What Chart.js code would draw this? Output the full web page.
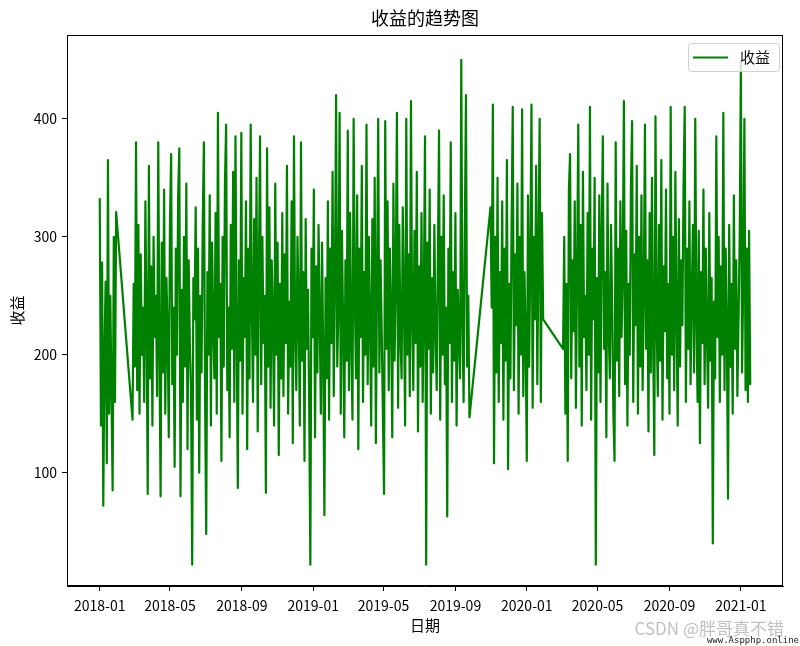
<!DOCTYPE html>
<html lang="zh">
<head>
<meta charset="utf-8">
<title>收益的趋势图</title>
<script src="https://cdn.jsdelivr.net/npm/chart.js@4.4.1/dist/chart.umd.min.js"></script>
<style>
  html, body { margin: 0; padding: 0; background: #fff; }
  canvas { display: block; }
</style>
</head>
<body>
<canvas id="trendChart" width="800" height="646"></canvas>
<script>
// 收益数据: 每两天一个点, 在几个停顿处分成四段
const segmentStarts = ['2018-01-01', '2018-02-26', '2019-10-31', '2020-03-03'];
const stepDays = 2;

const revenue2018a = [332, 140, 278, 72, 200, 262, 108, 365, 150, 250, 170, 85, 300, 160, 321];

const revenue2018b = [
  145, 260, 190, 380, 170, 310, 150, 285, 200, 240,
  160, 330, 230, 82, 360, 180, 275, 140, 300, 215,
  250, 165, 380, 205, 80, 295, 185, 340, 150, 265,
  220, 130, 310, 370, 175, 240, 105, 290, 200, 335,
  375, 80, 255, 160, 300, 190, 345, 120, 280, 210,
  170, 22, 265, 230, 325, 145, 290, 100, 250, 185,
  310, 380, 165, 48, 270, 200, 335, 140, 295, 225,
  180, 320, 150, 405, 215, 260, 110, 300, 190, 345,
  395, 170, 240, 130, 310, 205, 355, 160, 385, 225,
  87, 280, 195, 388, 150, 265, 215, 330, 120, 290,
  180, 395, 240, 160, 315, 200, 350, 135, 270, 385,
  175, 300, 210, 250, 83, 375, 190, 325, 155, 280,
  230, 140, 345, 200, 295, 115, 260, 180, 320, 165,
  285, 210, 360, 150, 245, 190, 330, 125, 385, 220,
  170, 300, 240, 140, 380, 195, 270, 110, 315, 205,
  255, 160, 22, 290, 215, 340, 130, 275, 185, 310,
  230, 150, 295, 200, 64, 265, 180, 330, 145, 290,
  210, 355, 165, 260, 420, 190, 240, 405, 150, 305,
  225, 130, 280, 195, 390, 170, 320, 210, 145, 400,
  250, 180, 335, 120, 290, 215, 360, 160, 270, 200,
  395, 175, 300, 230, 140, 315, 190, 350, 125, 260,
  400, 185, 280, 220, 150, 82, 398, 205, 330, 170,
  290, 235, 130, 345, 195, 265, 405, 155, 310, 215,
  180, 325, 245, 140, 400, 200, 285, 165, 415, 230,
  170, 305, 210, 355, 135, 275, 190, 320, 160, 250,
  385, 22, 295, 205, 340, 150, 265, 185, 310, 220,
  170, 280, 390, 145, 300, 200, 335, 175, 240, 63,
  290, 210, 380, 160, 270, 195, 320, 140, 255, 215,
  180, 450, 230, 160, 300, 420, 190, 250, 147
];

const revenue2019 = [
  325, 240, 412, 108, 300, 185, 350, 160, 270, 210,
  330, 145, 290, 195, 365, 103, 260, 180, 310, 410,
  170, 285, 225, 345, 150, 300, 200, 408, 165, 270,
  215, 110, 335, 190, 280, 412, 155, 300, 230, 360,
  175, 290, 400, 160, 320, 230
];

const revenue2020 = [
  205, 300, 150, 260, 110, 340, 370, 180, 280, 220,
  330, 155, 270, 395, 190, 310, 140, 355, 215, 250,
  170, 320, 200, 410, 145, 290, 230, 350, 22, 265,
  185, 335, 160, 300, 385, 205, 270, 130, 345, 220,
  180, 310, 240, 150, 110, 380, 195, 290, 165, 330,
  215, 270, 415, 175, 305, 140, 260, 200, 340, 398,
  160, 285, 225, 360, 150, 300, 190, 335, 170, 250,
  395, 205, 280, 135, 320, 185, 350, 210, 115, 402,
  230, 165, 310, 195, 365, 145, 275, 220, 340, 180,
  260, 150, 410, 200, 300, 170, 355, 235, 140, 315,
  190, 280, 225, 345, 410, 160, 290, 205, 330, 175,
  250, 310, 185, 400, 230, 160, 305, 125, 270, 210,
  340, 175, 290, 220, 155, 320, 195, 265, 40, 245,
  180, 385, 215, 300, 160, 275, 200, 405, 170, 290,
  225, 78, 310, 190, 260, 150, 335, 205, 280, 165,
  230, 300, 448, 185, 260, 400, 170, 290, 160, 305,
  175
];

const xTickDates = ['2018-01-01', '2018-05-01', '2018-09-01', '2019-01-01', '2019-05-01',
  '2019-09-01', '2020-01-01', '2020-05-01', '2020-09-01', '2021-01-01'];
const xTickLabels = ['2018-01', '2018-05', '2018-09', '2019-01', '2019-05',
  '2019-09', '2020-01', '2020-05', '2020-09', '2021-01'];
const yTicks = [100, 200, 300, 400];

const FONT = '"Noto Sans CJK SC", "Noto Sans", sans-serif';
const LINE_GREEN = '#008000';

// 距 2018-01-01 的天数, 作为线性 x 轴的取值
const dayOf = (s) => (Date.parse(s + 'T00:00:00Z') - Date.parse('2018-01-01T00:00:00Z')) / 86400000;

const segments = [revenue2018a, revenue2018b, revenue2019, revenue2020];
const points = [];
segments.forEach((vals, s) => {
  const start = dayOf(segmentStarts[s]);
  vals.forEach((v, i) => points.push({ x: start + i * stepDays, y: v }));
});

// 坐标框 (上/右两条边 Chart.js 不画)
const frame = {
  id: 'frame',
  afterDatasetsDraw(chart) {
    const { ctx, chartArea: a } = chart;
    ctx.save();
    ctx.strokeStyle = '#000';
    ctx.lineWidth = 1;
    ctx.strokeRect(a.left + 0.5, a.top + 0.5, a.right - a.left - 1, a.bottom - a.top - 1);
    ctx.restore();
  }
};

// 右上角图例, 仿 matplotlib 的样式
const legendBox = {
  id: 'legendBox',
  afterDatasetsDraw(chart) {
    const { ctx, chartArea: a } = chart;
    const ds = chart.data.datasets[0];
    const w = 91, h = 28;
    const x = a.right - 4 - w, y = a.top + 8;
    ctx.save();
    ctx.beginPath();
    ctx.roundRect(x + 0.5, y + 0.5, w, h, 3);
    ctx.fillStyle = 'rgba(255,255,255,0.8)';
    ctx.fill();
    ctx.strokeStyle = '#d0d0d0';
    ctx.lineWidth = 1;
    ctx.stroke();
    ctx.beginPath();
    ctx.moveTo(x + 5, y + 14.5);
    ctx.lineTo(x + 40, y + 14.5);
    ctx.strokeStyle = ds.borderColor;
    ctx.lineWidth = 2;
    ctx.stroke();
    ctx.fillStyle = '#111';
    ctx.font = '15px ' + FONT;
    ctx.textBaseline = 'middle';
    ctx.fillText(ds.label, x + 52, y + 14.5);
    ctx.restore();
  }
};

// 图片右下角的水印文字
const watermark = {
  id: 'watermark',
  afterDraw(chart) {
    const { ctx } = chart;
    ctx.save();
    ctx.textAlign = 'right';
    ctx.textBaseline = 'middle';
    ctx.fillStyle = 'rgba(140,140,140,0.55)';
    ctx.font = '17px ' + FONT;
    ctx.fillText('CSDN @胖哥真不错', 784, 629);
    ctx.fillStyle = '#222';
    ctx.font = '9px "DejaVu Sans Mono", monospace';
    ctx.fillText('www.Aspphp.online', 799, 641);
    ctx.restore();
  }
};

new Chart(document.getElementById('trendChart'), {
  type: 'line',
  data: {
    datasets: [{
      label: '收益',
      data: points,
      borderColor: LINE_GREEN,
      borderWidth: 2.2,
      borderJoinStyle: 'round',
      borderCapStyle: 'round',
      pointRadius: 0,
      fill: false,
      tension: 0
    }]
  },
  options: {
    responsive: false,
    animation: false,
    devicePixelRatio: 1,
    events: [],
    layout: { padding: { left: 0, right: 17, top: 0, bottom: 0 } },
    scales: {
      x: {
        type: 'linear',
        min: -56,
        max: 1168,
        afterBuildTicks: (scale) => {
          scale.ticks = xTickDates.map(d => ({ value: dayOf(d) }));
        },
        afterFit: (scale) => { scale.height = 60; },
        ticks: {
          autoSkip: false,
          maxRotation: 0,
          padding: 6,
          color: '#000',
          font: { family: FONT, size: 14 },
          callback: (value, index) => xTickLabels[index]
        },
        grid: { drawOnChartArea: false, drawTicks: true, tickLength: 5, tickColor: '#000' },
        border: { display: true, color: '#000' },
        title: {
          display: true,
          text: '日期',
          color: '#000',
          font: { family: FONT, size: 15 },
          padding: { top: 0, bottom: 12 }
        }
      },
      y: {
        min: 4,
        max: 471,
        afterBuildTicks: (scale) => {
          scale.ticks = yTicks.map(v => ({ value: v }));
        },
        afterFit: (scale) => { scale.width = 67; },
        ticks: {
          padding: 5,
          color: '#000',
          font: { family: FONT, size: 14 }
        },
        grid: { drawOnChartArea: false, drawTicks: true, tickLength: 5, tickColor: '#000' },
        border: { display: true, color: '#000' },
        title: {
          display: true,
          text: '收益',
          color: '#000',
          font: { family: FONT, size: 15 },
          padding: { top: 8, bottom: 0 }
        }
      }
    },
    plugins: {
      legend: { display: false },
      tooltip: { enabled: false },
      title: {
        display: true,
        text: '收益的趋势图',
        fullSize: false,
        color: '#000',
        font: { family: FONT, size: 18, weight: 'normal' },
        padding: { top: 7, bottom: 6.4 }
      }
    }
  },
  plugins: [frame, legendBox, watermark]
});
</script>
</body>
</html>
